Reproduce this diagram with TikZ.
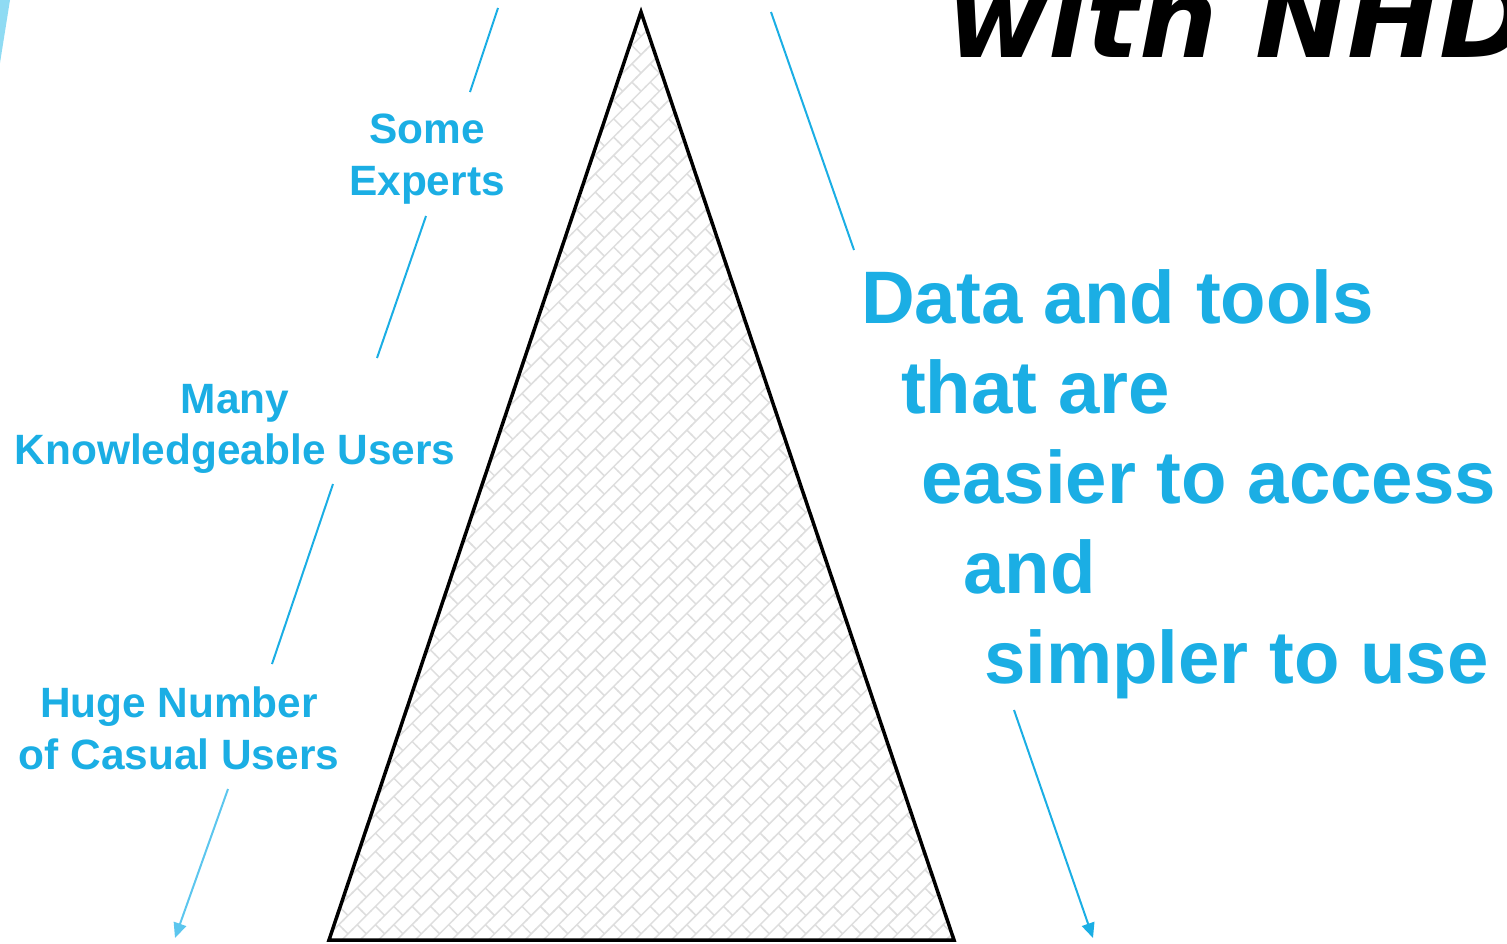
\documentclass[tikz,border=0pt]{standalone}
\usepackage{fontspec}
\setmainfont{Liberation Sans}
\newfontfamily\titlefont{DejaVu Sans}
\usetikzlibrary{arrows.meta,patterns.meta}
\definecolor{nhdblue}{RGB}{27,174,228}
\definecolor{lightarrow}{RGB}{92,198,238}
\definecolor{edgeblue}{RGB}{143,219,243}
\definecolor{brickgray}{RGB}{222,222,222}
\tikzdeclarepattern{
  name=diagbricks,
  type=uncolored,
  bottom left={(-1pt,-1pt)},
  top right={(27pt,27pt)},
  tile size={(26pt,26pt)},
  tile transformation={rotate=45},
  code={
    \draw[line width=1.5pt]
      (-1pt,6.5pt)--(27pt,6.5pt) (-1pt,19.5pt)--(27pt,19.5pt)
      (6.5pt,6.5pt)--(6.5pt,19.5pt)
      (19.5pt,19.5pt)--(19.5pt,27pt) (19.5pt,-1pt)--(19.5pt,6.5pt);
  }
}
\tikzset{
  lbl/.style={inner sep=0pt, text=nhdblue, font=\bfseries\fontsize{42.4bp}{50bp}\selectfont, anchor=base},
  big/.style={inner sep=0pt, text=nhdblue, font=\bfseries\fontsize{74.4bp}{90bp}\selectfont, anchor=base west},
  conn/.style={draw=nhdblue, line width=2bp},
  connarrow/.style={conn, -{Triangle[length=15bp,width=13bp]}},
}
\begin{document}
\begin{tikzpicture}[x=1bp,y=-1bp]
\useasboundingbox (0,0) rectangle (1507,943);
\clip (0,0) rectangle (1507,943);
% left edge sliver
\fill[edgeblue] (0,0) -- (10,0) -- (0,63) -- cycle;
% title
\node[inner sep=0pt, anchor=base west, font=\titlefont\bfseries\itshape\fontsize{110bp}{110bp}\selectfont] (title) at (947,57) {with NHD};
% triangle
\coordinate (apex) at (641,12);
\coordinate (bl) at (329,940);
\coordinate (br) at (954,940);
\fill[white] (apex) -- (bl) -- (br) -- cycle;
\fill[pattern=diagbricks, pattern color=brickgray] (apex) -- (bl) -- (br) -- cycle;
\draw[line width=3.5bp, line join=miter] (apex) -- (bl) -- (br) -- cycle;
% left labels
\node[lbl] (some) at (427,143) {Some};
\node[lbl] (experts) at (427,195) {Experts};
\node[lbl] (many) at (235,413) {Many};
\node[lbl] (knowl) at (235,464) {Knowledgeable Users};
\node[lbl] (huge) at (179,717) {Huge Number};
\node[lbl] (casual) at (179,769) {of Casual Users};
% right text
\node[big] (r1) at (861,323) {Data and tools};
\node[big] (r2) at (901,413) {that are};
\node[big] (r3) at (921,503) {easier to access};
\node[big] (r4) at (963,593) {and};
\node[big] (r5) at (984,683) {simpler to use};
% connector end points
\coordinate (a1) at (498,8);
\coordinate (a2) at (470,92);
\coordinate (b1) at (426,216);
\coordinate (b2) at (377,358);
\coordinate (c1) at (333,484);
\coordinate (c2) at (272,664);
\coordinate (d1) at (228,789);
\coordinate (d2) at (175,938);
\coordinate (e1) at (771,12);
\coordinate (e2) at (854,250);
\coordinate (f1) at (1014,710);
\coordinate (f2) at (1093,938);
\draw[conn] (a1) -- (a2);
\draw[conn] (b1) -- (b2);
\draw[conn] (c1) -- (c2);
\draw[connarrow, draw=lightarrow, fill=lightarrow] (d1) -- (d2);
\draw[conn] (e1) -- (e2);
\draw[connarrow, fill=nhdblue] (f1) -- (f2);
\end{tikzpicture}
\end{document}
